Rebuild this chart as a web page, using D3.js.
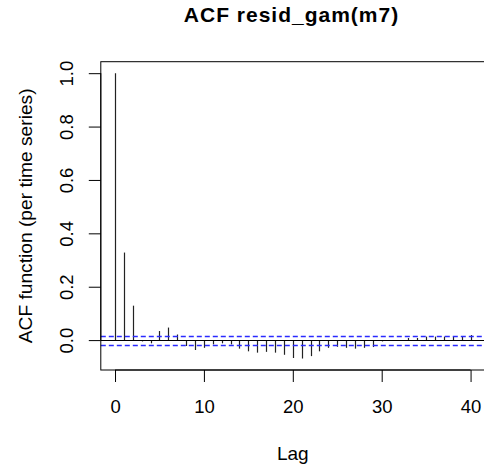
<!DOCTYPE html>
<html><head><meta charset="utf-8">
<script src="https://cdn.jsdelivr.net/npm/d3@7"></script>
<style>body{margin:0;background:#fff}svg{display:block}text{font-family:"Liberation Sans",Arial,sans-serif;fill:#000}</style>
</head><body><svg id="c" width="484" height="467"></svg>
<script>
const lags = d3.range(0, 41);
const acfValues = [1.0, 0.328, 0.129, -0.005, -0.012, 0.034, 0.047, 0.021, -0.022, -0.037,
  -0.029, -0.016, -0.012, -0.016, -0.032, -0.042, -0.047, -0.044, -0.047, -0.055,
  -0.067, -0.069, -0.06, -0.042, -0.029, -0.025, -0.029, -0.032, -0.029, -0.026,
  -0.005, 0.0, 0.0, 0.008, 0.008, 0.013, 0.013, 0.013, 0.013, 0.013, 0.019];
const ciBound = 0.017;
const xTicks = [0, 10, 20, 30, 40];
const yTicks = [0.0, 0.2, 0.4, 0.6, 0.8, 1.0];
const titleText = "ACF resid_gam(m7)";
const xLabel = "Lag";
const yLabel = "ACF function (per time series)";

const svg = d3.select("#c");
const pL = 100.8, pR = 484.8, pT = 61.7, pB = 370;
const x = d3.scaleLinear().domain([-1.6, 41.6]).range([pL, pR]);
const y = d3.scaleLinear().domain([-0.112, 1.043]).range([pB, pT]);
const crisp = v => Math.round(v) + 0.5;

// bars
svg.append("g").selectAll("line").data(lags).join("line")
  .attr("x1", d => crisp(x(d))).attr("x2", d => crisp(x(d)))
  .attr("y1", y(0)).attr("y2", (d, i) => y(acfValues[i]))
  .attr("stroke", "#222").attr("stroke-width", 1.2);

// zero line
svg.append("line").attr("x1", pL).attr("x2", pR).attr("y1", crisp(y(0))).attr("y2", crisp(y(0)))
  .attr("stroke", "#000").attr("stroke-width", 1);
// confidence
[ciBound, -ciBound].forEach(v => {
  svg.append("line").attr("x1", pL).attr("x2", pR).attr("y1", crisp(y(v))).attr("y2", crisp(y(v)))
    .attr("stroke", "#2a2aff").attr("stroke-width", 1.3).attr("stroke-dasharray", "5,3");
});

// box
svg.append("rect").attr("x", pL).attr("y", pT).attr("width", pR - pL).attr("height", pB - pT)
  .attr("fill", "none").attr("stroke", "#000").attr("stroke-width", 1);

// x axis
const xAxis = d3.axisBottom(x).tickValues(xTicks).tickSize(12).tickPadding(16).tickFormat(d3.format("d"));
const gx = svg.append("g").attr("transform", `translate(0,${pB})`).call(xAxis);
gx.select(".domain").attr("d", `M${x(0)},0H${x(40)}`).attr("stroke", "#000");
gx.selectAll("text").attr("y", 42.7).attr("dy", null).style("font-size", "18.5px").attr("fill", "#000");

// y axis
const yAxis = d3.axisLeft(y).tickValues(yTicks).tickSize(12).tickPadding(0).tickFormat(d3.format(".1f"));
const gy = svg.append("g").attr("transform", `translate(${pL},0)`).call(yAxis);
gy.select(".domain").attr("d", `M0,${y(0)}V${y(1)}`).attr("stroke", "#000");
gy.selectAll("text").remove();
gy.selectAll(".tick").append("text").attr("transform", "translate(-27.5,0) rotate(-90)")
  .attr("text-anchor", "middle").style("font-size", "18.5px")
  .text(d => d3.format(".1f")(d));

// titles
svg.append("text").attr("x", 291.5).attr("y", 21.7).attr("text-anchor", "middle")
  .style("font-size", "21px").style("font-weight", "bold").style("letter-spacing", "1px").text(titleText);
svg.append("text").attr("x", x(20)).attr("y", 459.5).attr("text-anchor", "middle")
  .style("font-size", "19px").text(xLabel);
svg.append("text").attr("transform", `translate(32,${(pT + pB) / 2}) rotate(-90)`)
  .attr("text-anchor", "middle").style("font-size", "19.2px").text(yLabel);
</script></body></html>
